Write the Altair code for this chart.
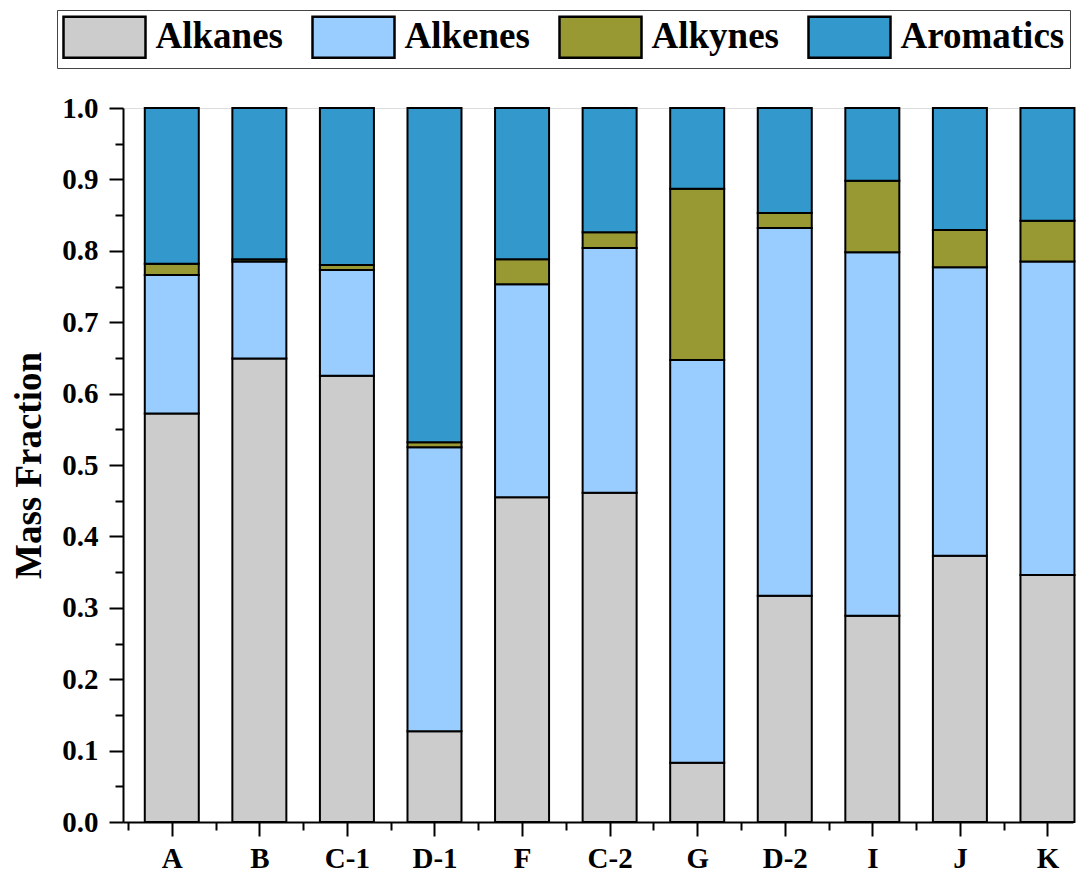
import altair as alt
import pandas as pd

categories = ["A", "B", "C-1", "D-1", "F", "C-2", "G", "D-2", "I", "J", "K"]
components = ["Alkanes", "Alkenes", "Alkynes", "Aromatics"]
alkanes = [0.572, 0.649, 0.625, 0.127, 0.455, 0.461, 0.083, 0.317, 0.289, 0.373, 0.346]
alkenes = [0.194, 0.136, 0.148, 0.398, 0.298, 0.343, 0.564, 0.515, 0.509, 0.404, 0.439]
alkynes = [0.016, 0.003, 0.007, 0.007, 0.035, 0.022, 0.240, 0.021, 0.100, 0.052, 0.057]
aromatics = [0.218, 0.212, 0.220, 0.468, 0.212, 0.174, 0.113, 0.147, 0.102, 0.171, 0.158]
colors = ["#CCCCCC", "#99CCFF", "#999933", "#3399CC"]
y_tick_values = [round(i * 0.05, 2) for i in range(21)]

series = [alkanes, alkenes, alkynes, aromatics]
rows = []
for i, c in enumerate(categories):
    for j, name in enumerate(components):
        rows.append({"Sample": c, "slot": i + 0.5, "Component": name,
                     "Fraction": series[j][i], "order": j})
df = pd.DataFrame(rows)

FONT = "Liberation Serif"
PLOT_W = 950
PLOT_H = 714
STEP = 88.5                      # pixel width of one category slot
visible_slots = PLOT_W / STEP    # the frame stops at the last bar, as in the original
x_tick_values = [k * 0.5 for k in range(2 * len(categories) + 1)]
cat_js = "[" + ",".join("'" + c + "'" for c in categories) + "]"

x_axis = alt.Axis(
    title=None, values=x_tick_values, labelAngle=0, labelFlush=False, labelOverlap=False,
    labelExpr="datum.value % 1 == 0.5 ? " + cat_js + "[floor(datum.value)] : ''",
    labelFont=FONT, labelFontSize=29, labelFontWeight="bold", labelColor="black",
    tickSize={"condition": {"test": "datum.value % 1 == 0.5", "value": 14}, "value": 8},
    tickWidth=2, tickColor="black", domainColor="black", domainWidth=2,
    labelPadding=8, grid=False,
)

y_axis = alt.Axis(
    title="Mass Fraction", titleFont=FONT, titleFontSize=37, titleFontWeight="bold",
    titleColor="black", titlePadding=13,
    values=y_tick_values,
    labelExpr="round(datum.value*100) % 10 == 0 ? format(datum.value, '.1f') : ''",
    labelFont=FONT, labelFontSize=29, labelFontWeight="bold", labelColor="black",
    labelPadding=11, labelOverlap=False,
    tickSize={"condition": {"test": "round(datum.value*100) % 10 == 0", "value": 14}, "value": 8},
    tickWidth=2, tickColor="black", domainColor="black", domainWidth=2, grid=False,
)

bars = alt.Chart(df).mark_bar(
    width=54, stroke="black", strokeWidth=2
).encode(
    x=alt.X("slot:Q", scale=alt.Scale(domain=[0, visible_slots], nice=False, zero=False), axis=x_axis),
    y=alt.Y("Fraction:Q", stack="zero", scale=alt.Scale(domain=[0, 1], nice=False), axis=y_axis),
    color=alt.Color(
        "Component:N", sort=components,
        scale=alt.Scale(domain=components, range=colors),
        legend=alt.Legend(
            title=None, orient="none", legendX=-66, legendY=-98, direction="horizontal", columns=4,
            symbolType="M-2,-1H2V1H-2Z", symbolSize=1681, symbolOffset=20.5,
            symbolStrokeColor="black", symbolStrokeWidth=2.5, symbolOpacity=1,
            labelFont=FONT, labelFontSize=37, labelFontWeight="bold", labelColor="black",
            labelOffset=29, columnPadding=24, labelLimit=400,
            padding=5, strokeColor="#444444", fillColor="white",
        ),
    ),
    order=alt.Order("order:Q"),
    tooltip=["Sample:N", "Component:N", "Fraction:Q"],
)

chart = bars.properties(
    width=PLOT_W, height=PLOT_H,
    padding={"left": 2, "top": 1, "right": 1, "bottom": 0},
).configure_view(stroke="black", strokeWidth=2).configure_legend(
    strokeWidth=1.5
).configure(background="white")

chart.save("out.html", embed_options={"renderer": "svg", "actions": False})
